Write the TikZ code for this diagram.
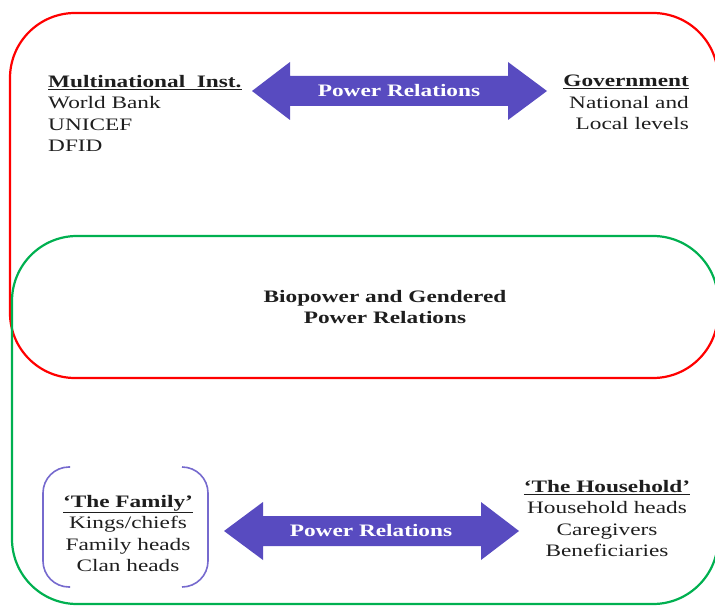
\documentclass[tikz,border=0pt]{standalone}
\usepackage{fontspec}
\setmainfont{Liberation Serif}[FakeStretch=1.33]
\definecolor{boxred}{RGB}{255,0,0}
\definecolor{boxgreen}{RGB}{0,176,80}
\definecolor{arrowpurple}{RGB}{88,75,192}
\definecolor{brackpurple}{RGB}{118,106,206}
\definecolor{txt}{RGB}{30,30,30}
\begin{document}
\begin{tikzpicture}[x=1pt,y=-1pt,
  redbox/.style={draw=boxred,line width=2.2pt,rounded corners=65},
  greenbox/.style={draw=boxgreen,line width=2.2pt,rounded corners=65},
  bigarrow/.style={fill=arrowpurple},
  arrowtext/.style={text=white,font=\fontsize{17.5}{21.5}\selectfont\bfseries,inner sep=0pt},
  label/.style={text=txt,font=\fontsize{17.5}{21.5}\selectfont,inner sep=0pt},
  bracket/.style={draw=brackpurple,line width=1.6pt,rounded corners=26}
]
\useasboundingbox (0,0) rectangle (715,607);
\clip (0,0) rectangle (715,607);
% outer boxes
\draw[redbox] (10,13) rectangle (718,378);
\draw[greenbox] (12,236) rectangle (718,604);
% top
\node[label,anchor=north west,align=left] (multi) at (48,75)
  {\underline{\textbf{Multinational\ \ Inst.}}\\World Bank\\UNICEF\\DFID};
\node[label,anchor=north east,align=right] (gov) at (689,75)
  {\underline{\textbf{Government}}\\National and\\Local levels};
\fill[bigarrow] (252,91) -- (290,62) -- (290,76) -- (508,76) -- (508,62) -- (547,91)
  -- (508,120) -- (508,106) -- (290,106) -- (290,120) -- cycle;
\node[arrowtext] (prtop) at (399,91) {Power Relations};
% middle
\node[label,anchor=north,align=center,font=\fontsize{17.5}{21.5}\selectfont\bfseries] (bio) at (385,290)
  {Biopower and Gendered\\Power Relations};
% bottom
\draw[bracket] (70,467) -- (43,467) -- (43,587) -- (70,587);
\draw[bracket] (182,467) -- (208,467) -- (208,587) -- (182,587);
\node[label,anchor=north,align=center] (family) at (128,495)
  {\underline{\textbf{`The Family'}}\\Kings/chiefs\\Family heads\\Clan heads};
\node[label,anchor=north,align=center] (house) at (607,480)
  {\underline{\textbf{`The Household'}}\\Household heads\\Caregivers\\Beneficiaries};
\fill[bigarrow] (224,531) -- (263,502) -- (263,516) -- (481,516) -- (481,502) -- (519,531)
  -- (481,560) -- (481,546) -- (263,546) -- (263,560) -- cycle;
\node[arrowtext] (prbot) at (371,531) {Power Relations};
\end{tikzpicture}
\end{document}
